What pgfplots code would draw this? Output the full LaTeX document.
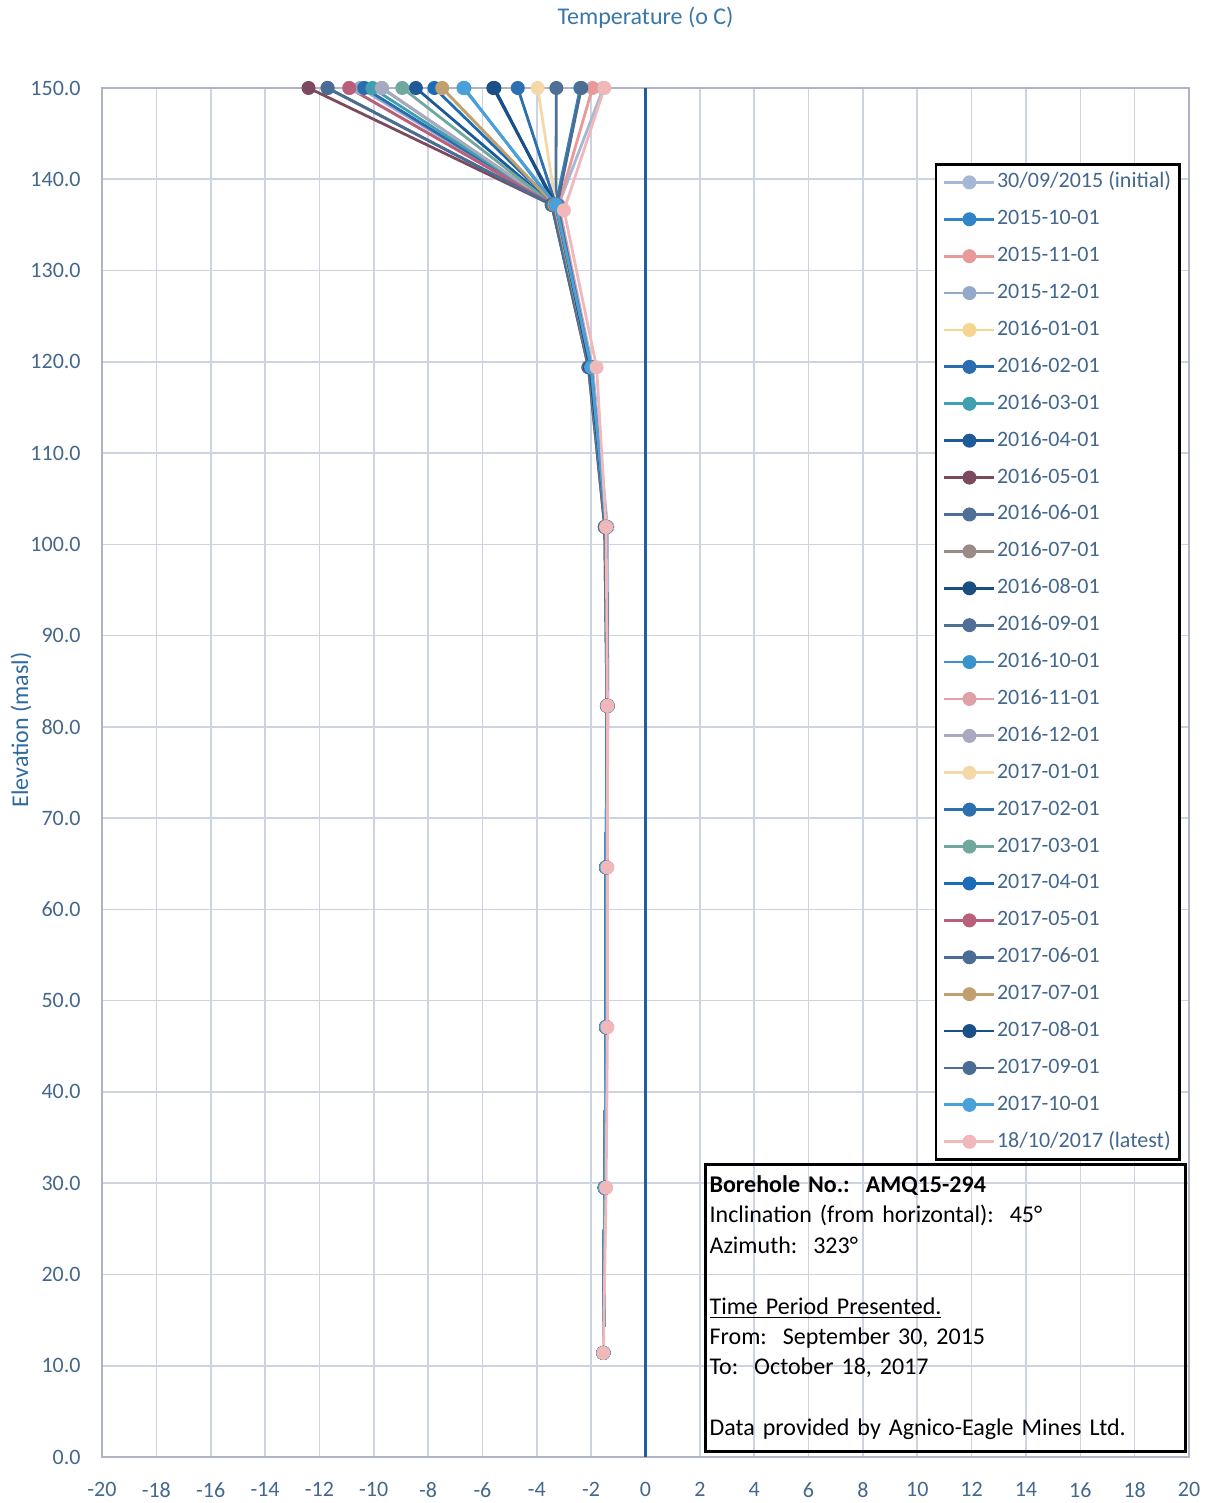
\documentclass[border=0pt]{standalone}
\usepackage{pgfplots}
\pgfplotsset{compat=1.18}
\usepackage{fontspec}
\setmainfont{Carlito}
\definecolor{gridc}{HTML}{CDD3E0}
\definecolor{axisc}{HTML}{AEB4C4}
\definecolor{tickc}{HTML}{44678D}
\definecolor{titlec}{HTML}{3A77A8}
\definecolor{ylabc}{HTML}{2F6AA0}
\definecolor{zeroc}{HTML}{1F5F9F}
\definecolor{s1}{HTML}{A5B8D6}
\definecolor{s2}{HTML}{2E86C8}
\definecolor{s3}{HTML}{E89A9A}
\definecolor{s4}{HTML}{95A9C8}
\definecolor{s5}{HTML}{F5D590}
\definecolor{s6}{HTML}{2A6CB0}
\definecolor{s7}{HTML}{40A0B0}
\definecolor{s8}{HTML}{1F5A98}
\definecolor{s9}{HTML}{7B4A5E}
\definecolor{s10}{HTML}{4F6F95}
\definecolor{s11}{HTML}{9A8A88}
\definecolor{s12}{HTML}{1B4E80}
\definecolor{s13}{HTML}{4F6F95}
\definecolor{s14}{HTML}{3A94CC}
\definecolor{s15}{HTML}{E0A0A8}
\definecolor{s16}{HTML}{A6AAC0}
\definecolor{s17}{HTML}{F5D8A8}
\definecolor{s18}{HTML}{2C70B0}
\definecolor{s19}{HTML}{70A8A0}
\definecolor{s20}{HTML}{1B6BB8}
\definecolor{s21}{HTML}{B8607A}
\definecolor{s22}{HTML}{4B6C93}
\definecolor{s23}{HTML}{C0A070}
\definecolor{s24}{HTML}{1A4F88}
\definecolor{s25}{HTML}{4B6C93}
\definecolor{s26}{HTML}{4AA0D8}
\definecolor{s27}{HTML}{F0B8B8}
\pgfplotsset{
  ser/.style={color=#1, line width=1.4pt, mark=*, mark size=3.2pt,
    mark options={fill=#1, line width=0.6pt, solid}},
}
\begin{document}
\begin{tikzpicture}
\useasboundingbox (-51pt,-23pt) rectangle (553.5pt,728.5pt);
\begin{axis}[
  at={(0pt,0pt)}, anchor=south west,
  scale only axis, width=543.5pt, height=684.5pt,
  xmin=-20, xmax=20, ymin=0, ymax=150,
  xtick={-20,-18,...,20}, ytick={0,10,...,150},
  grid=major, grid style={color=gridc, line width=0.8pt},
  axis line style={color=axisc, line width=0.8pt},
  major tick length=0pt,
  /pgf/number format/assume math mode=true,
  ticklabel style={font=\fontsize{11}{13}\selectfont, text=tickc},
  yticklabel style={/pgf/number format/.cd, fixed, fixed zerofill, precision=1, /tikz/.cd, inner sep=0pt, xshift=-10.5pt},
  xticklabel style={inner sep=0pt, yshift=-12.5pt},
  title={Temperature (o C)},
  title style={at={(axis description cs:0.5,1)}, anchor=center, yshift=29pt, font=\fontsize{12}{14}\selectfont, text=titlec},
  ylabel={Elevation (masl)},
  ylabel style={at={(axis description cs:-0.0745,0.531)}, anchor=center, rotate=0, font=\fontsize{12}{14}\selectfont, text=ylabc},
  legend cell align=left,
  legend image code/.code={\draw[mark repeat=2,mark phase=2] plot coordinates {(0pt,0pt)(12.5pt,0pt)(25pt,0pt)};},
  legend style={at={(rel axis cs:0.766,0.945)}, anchor=north west, draw=black, line width=1.4pt,
    font=\fontsize{11}{13}\selectfont, text=tickc, row sep=7.75pt, inner sep=3.5pt,
    nodes={inner sep=0.6pt, text height=7.5pt, text depth=2pt}},
]
\addplot[zeroc, line width=1.6pt, forget plot] coordinates {(0,0) (0,150)};

\addplot[ser=s1] coordinates {(-1.55,150) (-3.2,137.2) (-1.95,119.4) (-1.40,101.9) (-1.38,82.3) (-1.42,64.6) (-1.45,47.1) (-1.50,29.5) (-1.55,11.4)};
\addlegendentry{30/09/2015 (initial)}
\addplot[ser=s2] coordinates {(-2.40,150) (-3.3,137.2) (-2.00,119.4) (-1.45,101.9) (-1.40,82.3) (-1.45,64.6) (-1.45,47.1) (-1.50,29.5) (-1.55,11.4)};
\addlegendentry{2015-10-01}
\addplot[ser=s3] coordinates {(-1.95,150) (-3.2,137.2) (-2.00,119.4) (-1.45,101.9) (-1.40,82.3) (-1.45,64.6) (-1.45,47.1) (-1.50,29.5) (-1.55,11.4)};
\addlegendentry{2015-11-01}
\addplot[ser=s4] coordinates {(-10.5,150) (-3.4,137.2) (-2.05,119.4) (-1.45,101.9) (-1.40,82.3) (-1.45,64.6) (-1.45,47.1) (-1.50,29.5) (-1.55,11.4)};
\addlegendentry{2015-12-01}
\addplot[ser=s5] coordinates {(-7.5,150) (-3.35,137.2) (-2.05,119.4) (-1.45,101.9) (-1.40,82.3) (-1.45,64.6) (-1.45,47.1) (-1.50,29.5) (-1.55,11.4)};
\addlegendentry{2016-01-01}
\addplot[ser=s6] coordinates {(-10.35,150) (-3.4,137.2) (-2.05,119.4) (-1.45,101.9) (-1.40,82.3) (-1.45,64.6) (-1.45,47.1) (-1.50,29.5) (-1.55,11.4)};
\addlegendentry{2016-02-01}
\addplot[ser=s7] coordinates {(-10.05,150) (-3.4,137.2) (-2.05,119.4) (-1.45,101.9) (-1.40,82.3) (-1.45,64.6) (-1.45,47.1) (-1.50,29.5) (-1.55,11.4)};
\addlegendentry{2016-03-01}
\addplot[ser=s8] coordinates {(-8.45,150) (-3.4,137.2) (-2.05,119.4) (-1.45,101.9) (-1.40,82.3) (-1.45,64.6) (-1.45,47.1) (-1.50,29.5) (-1.55,11.4)};
\addlegendentry{2016-04-01}
\addplot[ser=s9] coordinates {(-12.4,150) (-3.45,137.2) (-2.1,119.4) (-1.5,101.9) (-1.42,82.3) (-1.45,64.6) (-1.45,47.1) (-1.50,29.5) (-1.55,11.4)};
\addlegendentry{2016-05-01}
\addplot[ser=s10] coordinates {(-11.7,150) (-3.45,137.2) (-2.1,119.4) (-1.5,101.9) (-1.42,82.3) (-1.45,64.6) (-1.45,47.1) (-1.50,29.5) (-1.55,11.4)};
\addlegendentry{2016-06-01}
\addplot[ser=s11] coordinates {(-9.7,150) (-3.4,137.2) (-2.05,119.4) (-1.45,101.9) (-1.40,82.3) (-1.45,64.6) (-1.45,47.1) (-1.50,29.5) (-1.55,11.4)};
\addlegendentry{2016-07-01}
\addplot[ser=s12] coordinates {(-5.56,150) (-3.35,137.2) (-2.05,119.4) (-1.45,101.9) (-1.40,82.3) (-1.45,64.6) (-1.45,47.1) (-1.50,29.5) (-1.55,11.4)};
\addlegendentry{2016-08-01}
\addplot[ser=s13] coordinates {(-3.28,150) (-3.3,137.2) (-2.05,119.4) (-1.45,101.9) (-1.40,82.3) (-1.45,64.6) (-1.45,47.1) (-1.50,29.5) (-1.55,11.4)};
\addlegendentry{2016-09-01}
\addplot[ser=s14] coordinates {(-6.67,150) (-3.35,137.2) (-2.05,119.4) (-1.45,101.9) (-1.40,82.3) (-1.45,64.6) (-1.45,47.1) (-1.50,29.5) (-1.55,11.4)};
\addlegendentry{2016-10-01}
\addplot[ser=s15] coordinates {(-10.9,150) (-3.4,137.2) (-2.05,119.4) (-1.45,101.9) (-1.40,82.3) (-1.45,64.6) (-1.45,47.1) (-1.50,29.5) (-1.55,11.4)};
\addlegendentry{2016-11-01}
\addplot[ser=s16] coordinates {(-9.7,150) (-3.4,137.2) (-2.05,119.4) (-1.45,101.9) (-1.40,82.3) (-1.45,64.6) (-1.45,47.1) (-1.50,29.5) (-1.55,11.4)};
\addlegendentry{2016-12-01}
\addplot[ser=s17] coordinates {(-3.97,150) (-3.3,137.2) (-2.05,119.4) (-1.45,101.9) (-1.40,82.3) (-1.45,64.6) (-1.45,47.1) (-1.50,29.5) (-1.55,11.4)};
\addlegendentry{2017-01-01}
\addplot[ser=s18] coordinates {(-4.7,150) (-3.3,137.2) (-2.05,119.4) (-1.45,101.9) (-1.40,82.3) (-1.45,64.6) (-1.45,47.1) (-1.50,29.5) (-1.55,11.4)};
\addlegendentry{2017-02-01}
\addplot[ser=s19] coordinates {(-8.95,150) (-3.4,137.2) (-2.05,119.4) (-1.45,101.9) (-1.40,82.3) (-1.45,64.6) (-1.45,47.1) (-1.50,29.5) (-1.55,11.4)};
\addlegendentry{2017-03-01}
\addplot[ser=s20] coordinates {(-7.77,150) (-3.35,137.2) (-2.05,119.4) (-1.45,101.9) (-1.40,82.3) (-1.45,64.6) (-1.45,47.1) (-1.50,29.5) (-1.55,11.4)};
\addlegendentry{2017-04-01}
\addplot[ser=s21] coordinates {(-10.9,150) (-3.4,137.2) (-2.05,119.4) (-1.45,101.9) (-1.40,82.3) (-1.45,64.6) (-1.45,47.1) (-1.50,29.5) (-1.55,11.4)};
\addlegendentry{2017-05-01}
\addplot[ser=s22] coordinates {(-11.7,150) (-3.45,137.2) (-2.05,119.4) (-1.45,101.9) (-1.40,82.3) (-1.45,64.6) (-1.45,47.1) (-1.50,29.5) (-1.55,11.4)};
\addlegendentry{2017-06-01}
\addplot[ser=s23] coordinates {(-7.48,150) (-3.35,137.2) (-2.05,119.4) (-1.45,101.9) (-1.40,82.3) (-1.45,64.6) (-1.45,47.1) (-1.50,29.5) (-1.55,11.4)};
\addlegendentry{2017-07-01}
\addplot[ser=s24] coordinates {(-5.6,150) (-3.3,137.2) (-2.05,119.4) (-1.45,101.9) (-1.40,82.3) (-1.45,64.6) (-1.45,47.1) (-1.50,29.5) (-1.55,11.4)};
\addlegendentry{2017-08-01}
\addplot[ser=s25] coordinates {(-2.36,150) (-3.25,137.2) (-2.0,119.4) (-1.45,101.9) (-1.40,82.3) (-1.45,64.6) (-1.45,47.1) (-1.50,29.5) (-1.55,11.4)};
\addlegendentry{2017-09-01}
\addplot[ser=s26] coordinates {(-6.7,150) (-3.3,137.2) (-2.0,119.4) (-1.45,101.9) (-1.40,82.3) (-1.45,64.6) (-1.45,47.1) (-1.50,29.5) (-1.55,11.4)};
\addlegendentry{2017-10-01}
\addplot[ser=s27] coordinates {(-1.51,150) (-3.0,136.6) (-1.8,119.4) (-1.45,101.9) (-1.40,82.3) (-1.40,64.6) (-1.40,47.1) (-1.45,29.5) (-1.55,11.4)};
\addlegendentry{18/10/2017 (latest)}

\node[draw=black, line width=1.4pt, anchor=north west, minimum width=240pt, minimum height=143.5pt,
  inner xsep=1pt, inner ysep=1.5pt, text width=236pt, align=left,
  font=\fontsize{12}{15.2}\selectfont, text=black]
  at (rel axis cs:0.554,0.2148) {%
  \textbf{Borehole No.:\ \ AMQ15-294}\\
  Inclination (from horizontal):\ \ 45°\\
  Azimuth:\ \ 323°\\
  \mbox{}\\
  \underline{Time Period Presented.}\\
  From:\ \ September 30, 2015\\
  To:\ \ October 18, 2017\\
  \mbox{}\\
  Data provided by Agnico-Eagle Mines Ltd.};
\end{axis}
\end{tikzpicture}
\end{document}
